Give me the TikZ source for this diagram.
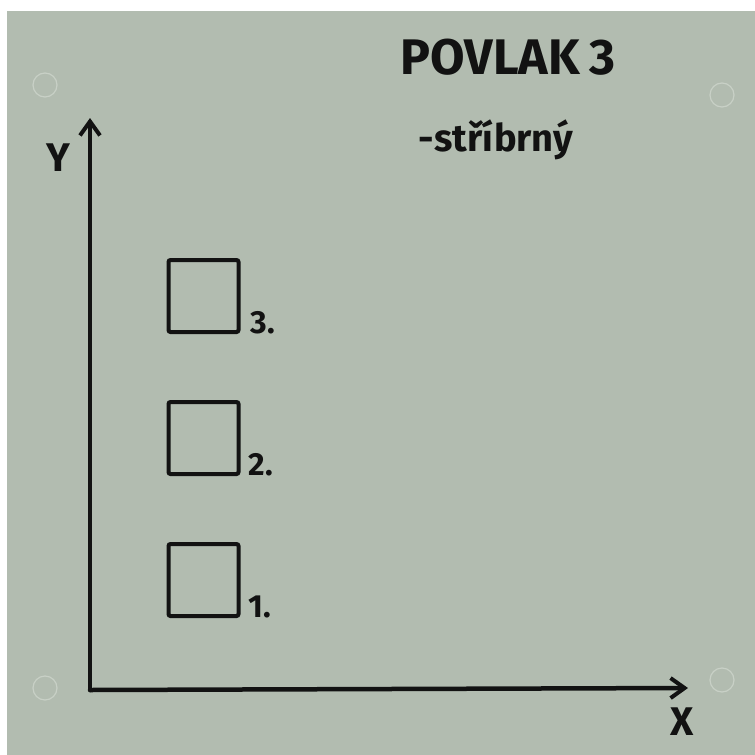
\documentclass[tikz,border=0pt]{standalone}
\usepackage{fontspec}
\setmainfont{Fira Sans}
\usetikzlibrary{arrows.meta}
\definecolor{plate}{RGB}{178,188,176}
\definecolor{ink}{RGB}{18,18,18}
\definecolor{hole}{RGB}{200,208,198}
\tikzset{
  boxsq/.style={draw=ink, line width=4pt, minimum width=70pt, minimum height=72pt, inner sep=0pt, rounded corners=2pt},
  hand/.style={text=ink, font=\bfseries, inner sep=0pt},
  axis/.style={draw=ink, line width=4.5pt, line cap=round, -{Straight Barb[length=14pt,width=20pt,line width=4pt]}},
  holec/.style={draw=hole, line width=1.2pt}
}
\begin{document}
\begin{tikzpicture}[x=1pt,y=-1pt]
\useasboundingbox (0,0) rectangle (755,755);
\fill[white] (0,0) rectangle (755,755);
\fill[plate] (7,11) rectangle (755,755);
% holes
\draw[holec] (45,85) circle (12);
\draw[holec] (722,95) circle (12);
\draw[holec] (45,688) circle (12);
\draw[holec] (722,680) circle (12);
% axes
\coordinate (o) at (90,690);
\coordinate (ytop) at (90,118);
\coordinate (xend) at (688,688);
\draw[axis] (o) -- (ytop);
\draw[axis] (o) -- (xend);
\node[hand, font=\bfseries\fontsize{40}{40}\selectfont] (ylab) at (58,158) {Y};
\node[hand, font=\bfseries\fontsize{40}{40}\selectfont] (xlab) at (682,722) {X};
% title
\node[hand, font=\bfseries\fontsize{50}{50}\selectfont] (title) at (508,57) {POVLAK\hspace{10pt}3};
\node[hand, font=\bfseries\fontsize{38}{38}\selectfont] (sub) at (496,140) {-stříbrný};
% boxes
\node[boxsq] (b3) at (203.5,296) {};
\node[boxsq] (b2) at (203.5,438) {};
\node[boxsq] (b1) at (203.5,580) {};
\node[hand, font=\bfseries\fontsize{32}{32}\selectfont, anchor=south west] (l3) at ([xshift=10pt]b3.south east) {3.};
\node[hand, font=\bfseries\fontsize{32}{32}\selectfont, anchor=south west] (l2) at ([xshift=8pt]b2.south east) {2.};
\node[hand, font=\bfseries\fontsize{32}{32}\selectfont, anchor=south west] (l1) at ([xshift=8pt]b1.south east) {1.};
\end{tikzpicture}
\end{document}
